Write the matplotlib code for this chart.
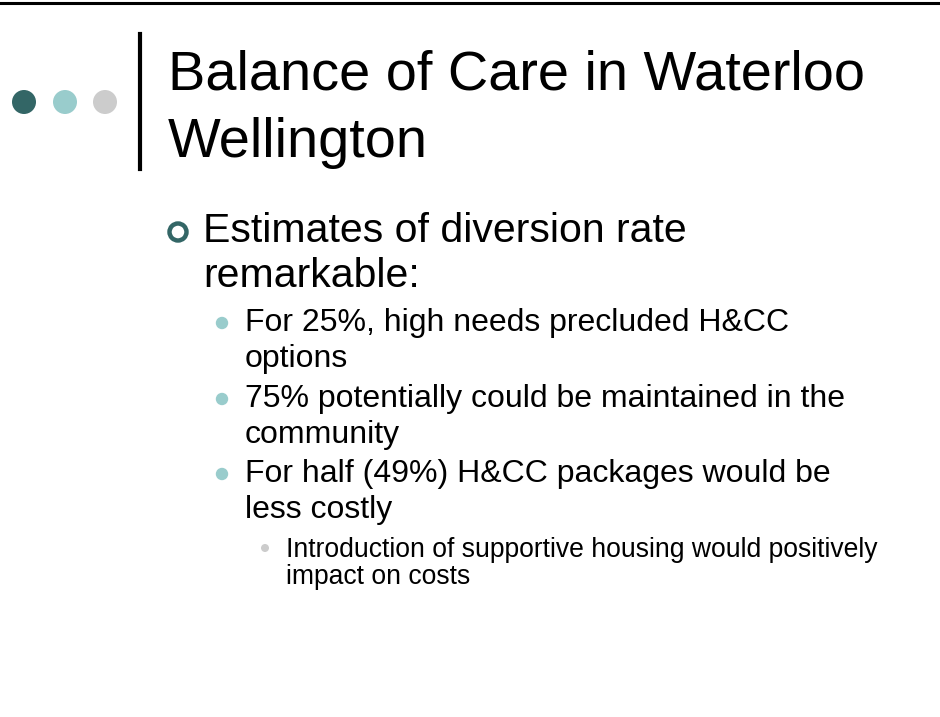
import matplotlib
matplotlib.use('Agg')
import matplotlib.pyplot as plt
from matplotlib.patches import Circle

W, H = 940, 717

# slide content
title_lines = ["Balance of Care in Waterloo", "Wellington"]
level1_lines = ["Estimates of diversion rate", "remarkable:"]
level2_items = [
    ["For 25%, high needs precluded H&CC", "options"],
    ["75% potentially could be maintained in the", "community"],
    ["For half (49%) H&CC packages would be", "less costly"],
]
level3_lines = ["Introduction of supportive housing would positively", "impact on costs"]
dot_colors = ["#336666", "#99cccc", "#cccccc"]

plt.rcParams['font.family'] = ['Liberation Sans', 'DejaVu Sans']

fig = plt.figure(figsize=(W / 100, H / 100), dpi=100)
ax = fig.add_axes([0, 0, 1, 1])
ax.set_xlim(0, W)
ax.set_ylim(H, 0)
ax.axis('off')

# top rule and title divider
ax.plot([0, W], [3, 3], color='black', lw=2.2)
ax.plot([140, 140], [34, 169], color='black', lw=3)

# three decorative dots
for x, c in zip([24, 65, 105], dot_colors):
    ax.add_patch(Circle((x, 102), 12, color=c, lw=0))

# title
for y, line in zip([90, 157], title_lines):
    ax.text(168, y, line, fontsize=40.2, va='baseline', ha='left', color='black')

# first level bullet (hollow ring)
ax.add_patch(Circle((178, 232), 8.5, facecolor='none', edgecolor='#336666', lw=3.2))
for y, line in zip([242, 287], level1_lines):
    ax.text(203, y, line, fontsize=29.5, va='baseline', ha='left', color='black')

# second level bullets
l2_baselines = [(331, 367), (407, 443), (482, 518)]
for item, ys in zip(level2_items, l2_baselines):
    ax.add_patch(Circle((222, ys[0] - 8), 6.2, color='#99cccc', lw=0))
    for y, line in zip(ys, item):
        ax.text(245, y, line, fontsize=23, va='baseline', ha='left', color='black')

# third level bullet
ax.add_patch(Circle((265, 548), 4, color='#cccccc', lw=0))
for y, line in zip([557, 584], level3_lines):
    ax.text(286, y, line, fontsize=19.1, va='baseline', ha='left', color='black')

fig.savefig('out.png', dpi=100, facecolor='white')
